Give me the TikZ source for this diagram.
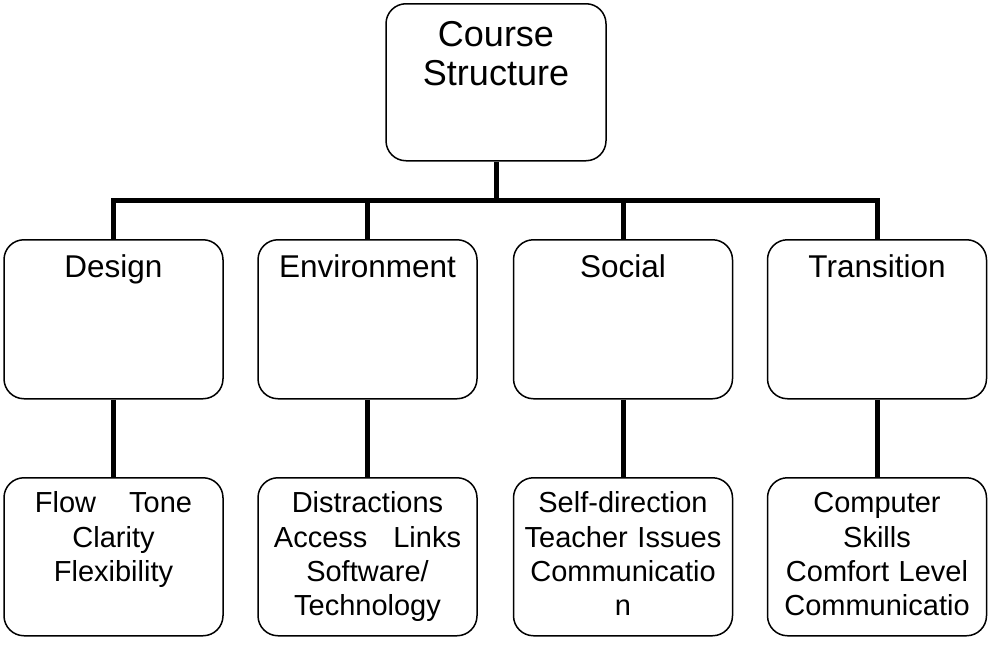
\documentclass[tikz,border=0pt]{standalone}
\usepackage{fontspec}
\setmainfont{Liberation Sans}
\usetikzlibrary{positioning}

\begin{document}
\begin{tikzpicture}[x=1pt, y=-1pt]
			\tikzstyle{round} = [draw=black, line width=1.5pt, rectangle, rounded corners=20pt, anchor=north, minimum width=219pt, text width=219pt, inner sep=0pt, align=center]
			\tikzstyle{head} = [round, font=\fontsize{36}{39}\selectfont, minimum width=220pt, text width=220pt, text height=43pt, text depth=114pt]
			\tikzstyle{topic} = [round, font=\fontsize{31.5}{36}\selectfont, text height=38pt, text depth=121pt]
			\tikzstyle{items} = [round, font=\fontsize{29}{34.3}\selectfont, text height=35pt, text depth=123pt]
			\tikzstyle{link} = [line width=5pt, line join=miter]
			
			\useasboundingbox (0, 0) rectangle (988, 645);
			
			\node[head] 	at (496, 3) 		(q0) 	{Course\\Structure};
			\node[topic]	at (113.5, 239)		(q1)	{Design};
			\node[topic] 	at (367.5, 239)		(q2)	{Environment};
			\node[topic] 	at (623, 239) 		(q3) 	{Social};
			\node[topic] 	at (877, 239) 		(q4) 	{Transition};
			\node[items]	at (113.5, 477)		(q5)	{Flow\hspace{33pt}Tone\\Clarity\\Flexibility};
			\node[items] 	at (367.5, 477)		(q6)	{Distractions\\Access\hspace{26pt}Links\\Software/\\Technology};
			\node[items] 	at (623, 477) 		(q7) 	{Self-direction\\Teacher Issues\\Communicatio\\n};
			\node[items] 	at (877, 477) 		(q8) 	{Computer\\Skills\\Comfort Level\\Communicatio};
			
			\coordinate (bar) at (496, 200.5);
			\draw[link] (q0.south) -- (bar);
			\draw[link] (q1.north) |- (bar) -| (q4.north);
			\draw[link] (q2.north) -- (q2.north |- bar);
			\draw[link] (q3.north) -- (q3.north |- bar);
			
			\path[link]
			(q1)	edge	(q5)
			(q2)	edge	(q6)
			(q3)	edge	(q7)
			(q4)	edge	(q8);
\end{tikzpicture}
\end{document}
